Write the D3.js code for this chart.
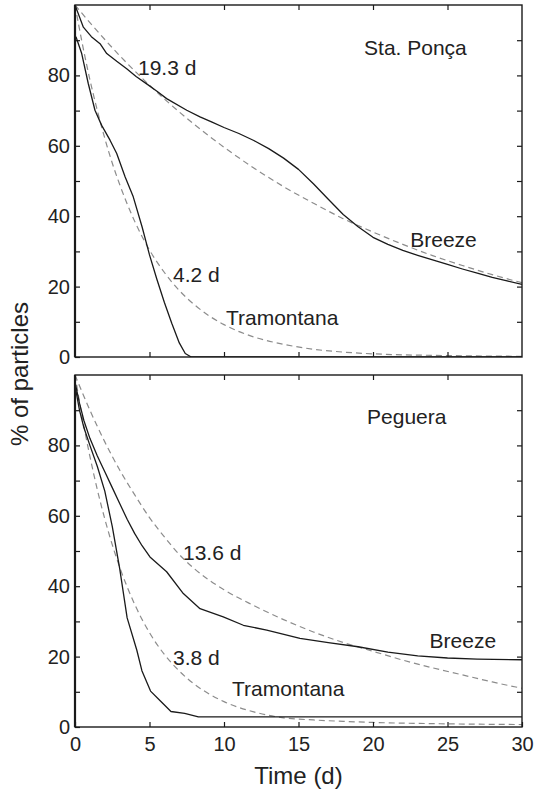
<!DOCTYPE html>
<head>
  <title>Particles remaining</title>
</head>
<style>

html, body {
  margin: 0;
  padding: 0;
  background: #ffffff;
}

svg {
  font-family: "Liberation Sans", Arial, sans-serif;
}

.frame {
  fill: none;
  stroke: #1a1a1a;
  stroke-width: 1.4px;
}

.obs {
  fill: none;
  stroke: #1a1a1a;
  stroke-width: 1.3px;
  stroke-linejoin: round;
}

.fit {
  fill: none;
  stroke: #8c8c8c;
  stroke-width: 1.2px;
  stroke-dasharray: 6, 4;
}

.axis path {
  display: none;
}

.axis line {
  stroke: #1a1a1a;
  stroke-width: 1.2px;
}

.axis text {
  font-size: 20px;
  fill: #222222;
}

.note {
  font-size: 21px;
  fill: #222222;
}

.title {
  font-size: 24px;
  fill: #222222;
}
</style>

<svg width="536" height="791"></svg>

<script src="https://d3js.org/d3.v7.min.js"></script>
<script>
/**
 * Sta. Ponca, observed curves (days, % of particles).
 */
var ponBreezeT = [0, 0.56, 1.1, 1.68, 2.13, 2.8, 3.47, 4.1, 4.81, 5.5, 6.15, 7.5, 8.39, 9.2, 10, 11, 12, 13, 14, 15, 16, 17, 18, 19, 20, 21, 22, 23, 24, 25, 26, 27, 28, 29, 30];
var ponBreezeV = [100, 93.7, 91, 89, 86.2, 84, 81.9, 79.7, 77.6, 75.5, 73.4, 70.1, 68.2, 66.7, 65.2, 63.5, 61.5, 59.2, 56.5, 53.3, 49.2, 44.8, 40.5, 37, 34, 32, 30.3, 28.9, 27.6, 26.3, 25, 23.8, 22.6, 21.6, 20.6];
var ponTramT = [0, 0.07, 0.45, 0.89, 1.34, 1.79, 2.35, 2.8, 3.36, 3.91, 4.5, 5, 5.5, 6, 6.5, 7, 7.4, 7.8, 30];
var ponTramV = [91, 90.9, 86.2, 77.7, 70.1, 65.8, 61.6, 57.8, 51.2, 45.5, 37, 29, 22, 15.5, 9.5, 4, 1, 0, 0];

/**
 * Sta. Ponca, fitted curves (grey dashes).
 */
var ponBreezeFitT = [0, 1, 2, 3, 4, 5, 6, 8, 10, 12, 14, 16, 18, 20, 22, 24, 26, 28, 30];
var ponBreezeFitV = [100, 95, 90.2, 85.6, 81.3, 77.2, 73.3, 66.1, 59.6, 53.7, 48.4, 43.7, 39.3, 35.5, 32, 28.8, 26, 23.4, 21.1];
var ponTramFitT = [0, 0.5, 1, 1.5, 2, 2.5, 3, 4, 5, 6, 7, 8, 9, 10, 12, 14, 16, 18, 20, 25, 30];
var ponTramFitV = [100, 88.8, 78.8, 70, 62.1, 55.1, 49, 38.6, 30.4, 24, 18.9, 14.9, 11.7, 9.2, 5.7, 3.6, 2.2, 1.4, 0.9, 0.4, 0.2];

/**
 * Peguera, observed curves.
 */
var pegBreezeT = [0, 0.3, 0.6, 1, 1.5, 2, 2.5, 3, 3.5, 4, 4.5, 5.03, 6.15, 7.27, 8.39, 9.95, 11.3, 12.87, 15.1, 17, 19, 21, 23, 25, 27, 30];
var pegBreezeV = [98, 92, 87, 82, 77, 72.5, 68, 63.5, 59, 55, 51.5, 48.3, 44.1, 37.9, 33.6, 31.3, 28.9, 27.5, 25.2, 24, 22.8, 21.3, 20.2, 19.6, 19.3, 19.1];
var pegTramT = [0, 0.3, 0.6, 1, 1.5, 2, 2.5, 3, 3.5, 4.15, 4.49, 5.07, 5.75, 6.44, 7.36, 8.28, 10, 30];
var pegTramV = [97, 90, 85, 80, 74, 67, 57, 45, 31, 21.8, 16, 10.2, 7.3, 4.4, 3.9, 2.9, 2.9, 2.9];

/**
 * Peguera, fitted curves.
 */
var pegBreezeFitT = [0, 1, 2, 3, 4, 5, 6, 7, 8, 10, 12, 14, 16, 18, 20, 22, 24, 26, 28, 30];
var pegBreezeFitV = [100, 90, 81, 73, 66, 59.5, 54, 49, 45, 39, 34.5, 30.5, 27, 24, 21.5, 19, 16.8, 14.8, 12.8, 11];
var pegTramFitT = [0, 0.5, 1, 1.5, 2, 2.5, 3, 4, 5, 6, 7, 8, 9, 10, 12, 14, 16, 18, 20, 25, 30];
var pegTramFitV = [100, 87.7, 76.9, 67.4, 59.1, 51.8, 45.4, 34.9, 26.8, 20.6, 15.9, 12.2, 9.4, 7.2, 4.3, 2.6, 2, 1.6, 1.3, 0.9, 0.7];

/**
 * Tick values and in-plot labels.
 */
var xTicks = [0, 5, 10, 15, 20, 25, 30];
var yTicks = [0, 10, 20, 30, 40, 50, 60, 70, 80, 90];
var ponNotes = ["Sta. Ponça", "19.3 d", "Breeze", "4.2 d", "Tramontana"];
var pegNotes = ["Peguera", "13.6 d", "Breeze", "3.8 d", "Tramontana"];

// where each note sits, in data units (day, %)
var ponNoteAt = [[19.4, 85.8], [4.23, 80.1], [22.5, 31.2], [6.58, 21.3], [10.13, 9.1]];
var pegNoteAt = [[19.6, 86.1], [7.25, 47.4], [23.8, 22.4], [6.58, 17.6], [10.54, 8.8]];

function zip(ts, vs) {
  return ts.map(function(t, i) { return [t, vs[i]]; });
}

var svg = d3.select("svg");

var left = 75, right = 522, plotH = 352;

var x = d3.scaleLinear().domain([0, 30]).range([left, right]);

var panels = [
  {
    top: 5,
    showX: false,
    obs: [zip(ponBreezeT, ponBreezeV), zip(ponTramT, ponTramV)],
    fit: [zip(ponBreezeFitT, ponBreezeFitV), zip(ponTramFitT, ponTramFitV)],
    notes: ponNotes,
    noteAt: ponNoteAt
  },
  {
    top: 375,
    showX: true,
    obs: [zip(pegBreezeT, pegBreezeV), zip(pegTramT, pegTramV)],
    fit: [zip(pegBreezeFitT, pegBreezeFitV), zip(pegTramFitT, pegTramFitV)],
    notes: pegNotes,
    noteAt: pegNoteAt
  }
];

panels.forEach(function(p) {
  var y = d3.scaleLinear().domain([0, 100]).range([p.top + plotH, p.top]);
  var g = svg.append("g");

  var line = d3.line()
               .x(function(d) { return x(d[0]); })
               .y(function(d) { return y(d[1]); });

  var clipId = "clip" + p.top;
  g.append("clipPath").attr("id", clipId)
    .append("rect")
      .attr("x", left).attr("y", p.top)
      .attr("width", right - left).attr("height", plotH);

  g.selectAll(".fit")
    .data(p.fit)
    .enter().append("path")
      .attr("class", "fit")
      .attr("clip-path", "url(#" + clipId + ")")
      .attr("d", line.curve(d3.curveMonotoneX));

  g.selectAll(".obs")
    .data(p.obs)
    .enter().append("path")
      .attr("class", "obs")
      .attr("clip-path", "url(#" + clipId + ")")
      .attr("d", line.curve(d3.curveLinear));

  // ticks point inward on all four sides, like a matlab box
  g.append("g")
    .attr("class", "axis")
    .attr("transform", "translate(" + left + ",0)")
    .call(d3.axisLeft(y).tickValues(yTicks).tickSize(-5).tickPadding(5)
      .tickFormat(function(d) { return d % 20 === 0 ? d : ""; }));

  g.append("g")
    .attr("class", "axis")
    .attr("transform", "translate(" + right + ",0)")
    .call(d3.axisRight(y).tickValues(yTicks.slice(1)).tickSize(-5).tickFormat(""));

  g.append("g")
    .attr("class", "axis")
    .attr("transform", "translate(0," + p.top + ")")
    .call(d3.axisTop(x).tickValues(xTicks.slice(1, -1)).tickSize(-5).tickFormat(""));

  g.append("g")
    .attr("class", "axis")
    .attr("transform", "translate(0," + (p.top + plotH) + ")")
    .call(d3.axisBottom(x).tickValues(p.showX ? xTicks : xTicks.slice(1, -1)).tickSize(-5).tickPadding(10)
      .tickFormat(p.showX ? d3.format("d") : ""));

  g.append("rect")
    .attr("class", "frame")
    .attr("x", left).attr("y", p.top)
    .attr("width", right - left).attr("height", plotH);

  g.append("line")
    .attr("x1", left).attr("x2", left)
    .attr("y1", p.top).attr("y2", p.top + plotH)
    .attr("stroke", "#1a1a1a").attr("stroke-width", 2.2);

  g.selectAll(".note")
    .data(p.notes)
    .enter().append("text")
      .attr("class", "note")
      .attr("x", function(d, i) { return x(p.noteAt[i][0]); })
      .attr("y", function(d, i) { return y(p.noteAt[i][1]); })
      .text(function(d) { return d; });
});

svg.append("text")
  .attr("class", "title")
  .attr("text-anchor", "middle")
  .attr("x", (left + right) / 2)
  .attr("y", 784)
  .text("Time (d)");

svg.append("text")
  .attr("class", "title")
  .attr("text-anchor", "middle")
  .attr("font-size", "25px")
  .attr("transform", "translate(28,374) rotate(-90)")
  .text("% of particles");

</script>
